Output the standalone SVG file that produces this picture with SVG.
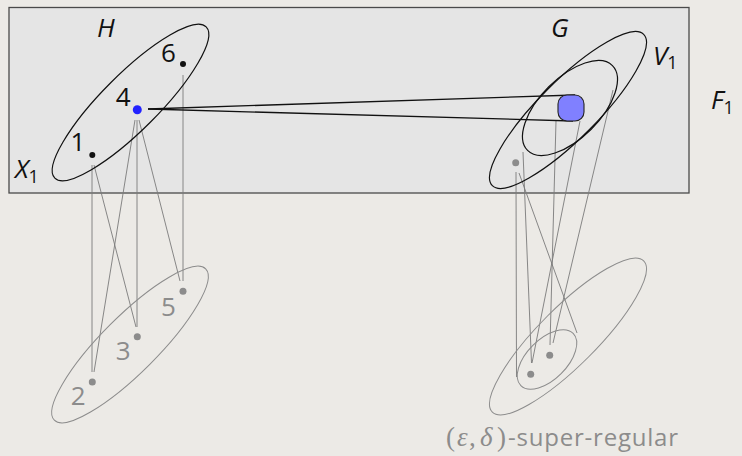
<svg xmlns="http://www.w3.org/2000/svg" width="742" height="456" viewBox="0 0 742 456">
<style>
.lbl{font-family:"Open Sans","DejaVu Sans",sans-serif;font-size:26px;fill:#111}
.it{font-style:italic}
.g{fill:#8c8c8c}
.sub{font-size:18px}
.e{fill:none;stroke:#111;stroke-width:1.2}
.eg{fill:none;stroke:#8c8c8c;stroke-width:1}
.ln{stroke:#7a7a7a;stroke-width:0.9;fill:none}
.bk{stroke:#111;stroke-width:1.3;fill:none}
</style>
<rect x="0" y="0" width="742" height="456" fill="#ECEAE6"/>
<g id="F1">
<rect x="9" y="7.5" width="680" height="185.5" fill="#E5E5E5" stroke="#4a4a4a" stroke-width="1.3"/>
<text class="lbl it" x="711" y="109.3">F<tspan class="sub" dy="5" font-style="normal">1</tspan></text>
</g>
<g id="connectors">
<line class="ln" x1="92" y1="165" x2="92" y2="372"/>
<line class="ln" x1="94" y1="165" x2="136" y2="327"/>
<line class="ln" x1="135" y1="120" x2="94" y2="372"/>
<line class="ln" x1="137" y1="120" x2="137" y2="327"/>
<line class="ln" x1="139" y1="120" x2="180" y2="281"/>
<line class="ln" x1="183" y1="75" x2="183" y2="281"/>
<line class="ln" x1="516" y1="172" x2="516.5" y2="377"/>
<line class="ln" x1="519" y1="173" x2="577" y2="333"/>
<line class="ln" x1="523" y1="152" x2="531.5" y2="363"/>
<line class="ln" x1="556" y1="121" x2="550" y2="345"/>
<line class="ln" x1="580" y1="121" x2="532" y2="363"/>
<line class="ln" x1="613" y1="90" x2="553" y2="343"/>
<line class="bk" x1="148" y1="109" x2="575" y2="95"/>
<line class="bk" x1="148" y1="109" x2="573" y2="121"/>
</g>
<g id="H">
<ellipse class="e" cx="130.5" cy="102.5" rx="107" ry="28" transform="rotate(-45 130.5 102.5)"/>
<text class="lbl it" x="97" y="36.5">H</text>
</g>
<g id="X1">
<text class="lbl it" x="15" y="178">X<tspan class="sub" dy="5" font-style="normal">1</tspan></text>
</g>
<g id="n1">
<circle cx="92.3" cy="155" r="3" fill="#111"/>
<text class="lbl" x="78" y="151" text-anchor="middle">1</text>
</g>
<g id="n4">
<circle cx="137.3" cy="109.7" r="4.5" fill="#2222ff"/>
<text class="lbl" x="123.3" y="106" text-anchor="middle">4</text>
</g>
<g id="n6">
<circle cx="183" cy="64" r="3" fill="#111"/>
<text class="lbl" x="168.5" y="61.5" text-anchor="middle">6</text>
</g>
<g id="lowerLeft">
<ellipse class="eg" cx="130" cy="344.5" rx="107" ry="28" transform="rotate(-45 130 344.5)"/>
</g>
<g id="n2">
<circle cx="92.3" cy="382" r="3.5" fill="#8c8c8c"/>
<text class="lbl g" x="78.3" y="405" text-anchor="middle">2</text>
</g>
<g id="n3">
<circle cx="137.3" cy="336.7" r="3.5" fill="#8c8c8c"/>
<text class="lbl g" x="123.3" y="360" text-anchor="middle">3</text>
</g>
<g id="n5">
<circle cx="183" cy="291.3" r="3.5" fill="#8c8c8c"/>
<text class="lbl g" x="168.5" y="315.5" text-anchor="middle">5</text>
</g>
<g id="G">
<ellipse class="e" cx="568" cy="110" rx="107" ry="29" transform="rotate(-45 568 110)"/>
<text class="lbl it" x="551" y="36.7">G</text>
</g>
<g id="V1">
<ellipse class="e" cx="570" cy="108" rx="60" ry="30" transform="rotate(-45 570 108)"/>
<text class="lbl it" x="653" y="65">V<tspan class="sub" dy="4" font-style="normal">1</tspan></text>
</g>
<g id="blob">
<rect x="558" y="95" width="26" height="26" rx="9" fill="#8080FF" stroke="#222" stroke-width="1.1"/>
</g>
<g id="gdot">
<circle cx="515.7" cy="162.7" r="3.5" fill="#8c8c8c"/>
</g>
<g id="lowerRight">
<ellipse class="eg" cx="568" cy="336.5" rx="107" ry="29" transform="rotate(-45 568 336.5)"/>
<ellipse class="eg" cx="547" cy="359.5" rx="37" ry="20" transform="rotate(-45 547 359.5)"/>
<circle cx="530.7" cy="374.3" r="3.5" fill="#8c8c8c"/>
<circle cx="549.7" cy="355.3" r="3.5" fill="#8c8c8c"/>
</g>
<g id="caption">
<text x="446" y="446" font-size="27" fill="#8c8c8c" font-family="'Liberation Serif',serif">(<tspan x="457" font-style="italic">ε</tspan><tspan x="469">,</tspan><tspan x="480" font-style="italic">δ</tspan><tspan x="497">)</tspan><tspan x="508" font-size="24" font-family="'Open Sans',sans-serif" textLength="170" lengthAdjust="spacing">-super-regular</tspan></text>
</g>
</svg>
